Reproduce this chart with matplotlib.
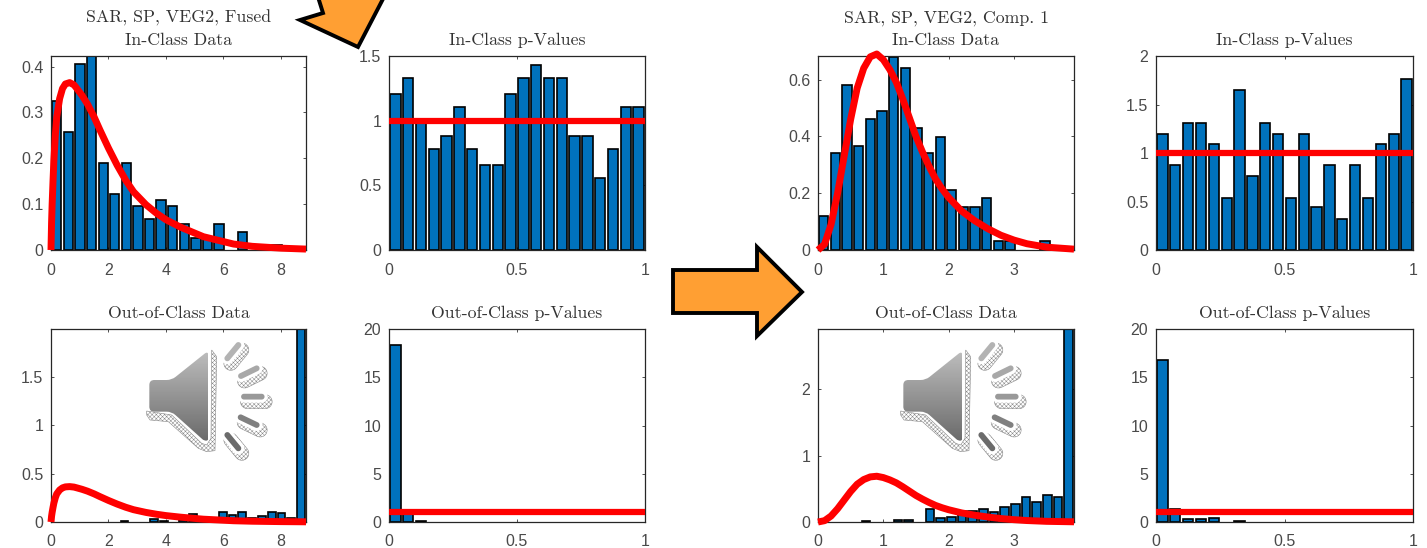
import numpy as np
import matplotlib
matplotlib.use("Agg")
import matplotlib.pyplot as plt
from matplotlib.patches import Polygon, PathPatch
from matplotlib.path import Path

W, H = 1427, 548

# ---- data ----
fused_in = [0.325, 0.258, 0.405, 0.43, 0.19, 0.122, 0.19, 0.097, 0.067, 0.108, 0.097,
            0.056, 0.027, 0.027, 0.056, 0, 0.04, 0, 0, 0.01, 0, 0]
fused_out = [0, 0, 0, 0, 0, 0, 0, 0.012, 0, 0, 0.03, 0.015, 0, 0.02, 0.08, 0, 0, 0.1,
             0.07, 0.1, 0.04, 0.06, 0.1, 0.09, 0.04, 2.0]
fused_p_in = [1.21, 1.33, 0.99, 0.78, 0.88, 1.105, 0.78, 0.66, 0.66, 1.21,
              1.33, 1.43, 1.33, 1.33, 0.88, 0.88, 0.555, 0.78, 1.105, 1.105]
fused_p_out = [18.3, 0.9, 0.12, 0, 0, 0, 0, 0, 0, 0, 0, 0, 0, 0, 0, 0, 0, 0, 0, 0]
comp_in = [0.12, 0.34, 0.58, 0.367, 0.46, 0.49, 0.68, 0.642, 0.43, 0.34, 0.398,
           0.212, 0.15, 0.15, 0.184, 0.03, 0.03, 0, 0, 0.03, 0, 0]
comp_out = [0, 0, 0, 0, 0.01, 0, 0, 0.03, 0.03, 0, 0.19, 0.06, 0.08, 0.17, 0.17, 0.19,
            0.15, 0.22, 0.27, 0.38, 0.3, 0.4, 0.38, 2.95]
comp_p_in = [1.2, 0.88, 1.31, 1.31, 1.09, 0.54, 1.65, 0.765, 1.31, 1.2,
             0.54, 1.2, 0.44, 0.88, 0.32, 0.88, 0.54, 1.09, 1.2, 1.76]
comp_p_out = [16.8, 1.3, 0.35, 0.35, 0.45, 0, 0.1, 0, 0, 0, 0, 0, 0, 0, 0, 0, 0, 0, 0, 0]

fused_curve_x = [0, 0.02, 0.04, 0.07, 0.1, 0.15, 0.2, 0.3, 0.4, 0.5, 0.65, 0.8, 0.9, 1.08,
                 1.27, 1.5, 1.7, 2, 2.3, 2.6, 2.87, 3.3, 3.67, 4, 4.5, 5.3, 6.35, 7, 8, 8.87]
fused_curve_y = [0, 0.06, 0.1, 0.15, 0.195, 0.25, 0.29, 0.33, 0.352, 0.362, 0.365, 0.36,
                 0.352, 0.337, 0.318, 0.29, 0.262, 0.222, 0.185, 0.152, 0.127, 0.099, 0.08,
                 0.066, 0.05, 0.029, 0.013, 0.008, 0.004, 0.002]
comp_curve_x = [0, 0.1, 0.2, 0.3, 0.4, 0.5, 0.6, 0.7, 0.8, 0.9, 1.0, 1.1, 1.2, 1.3, 1.4,
                1.5, 1.6, 1.7, 1.8, 1.9, 2.0, 2.2, 2.4, 2.6, 2.8, 3.0, 3.2, 3.5, 3.92]
comp_curve_y = [0, 0.02, 0.09, 0.2, 0.33, 0.46, 0.57, 0.64, 0.68, 0.69, 0.67, 0.635, 0.59,
                0.53, 0.465, 0.4, 0.345, 0.295, 0.25, 0.215, 0.185, 0.137, 0.103, 0.075,
                0.052, 0.035, 0.022, 0.01, 0.003]
p_curve_x = [0, 1]
p_curve_y = [1, 1]

titles_top = ["SAR, SP, VEG2, Fused", "SAR, SP, VEG2, Comp. 1"]

BLUE = "#0072BD"
RED = "#FF0000"
GRAY = "#4a4a4a"
ORANGE = "#FF9F33"
SERIF = "cmr10"
SANS = "Liberation Sans"

plt.rcParams["axes.formatter.use_mathtext"] = True
plt.rcParams["hatch.linewidth"] = 0.35
fig = plt.figure(figsize=(W / 100, H / 100), dpi=100, facecolor="white")


def make_axes(x0, x1, y0, y1):
    return fig.add_axes([x0 / W, 1 - y1 / H, (x1 - x0) / W, (y1 - y0) / H])


def panel(box, values, xmax, ymax, xticks, yticks, xlabels, ylabels, title,
          cx, cy, lw=5.0, first_line=None):
    ax = make_axes(*box)
    n = len(values)
    width = xmax / n
    centers = (np.arange(n) + 0.5) * width
    heights = np.array(values, dtype=float)
    keep = heights > 0
    ax.bar(centers[keep], heights[keep], width=width * 0.8, color=BLUE,
           edgecolor="black", linewidth=1.2, zorder=2)
    line, = ax.plot(cx, cy, color=RED, lw=lw, zorder=3, clip_on=False,
                    solid_capstyle="butt", solid_joinstyle="round")
    ax.set_xlim(0, xmax)
    ax.set_ylim(0, ymax)
    ax.set_xticks(xticks)
    ax.set_xticklabels(xlabels, family=SANS, fontsize=11.5, color=GRAY)
    ax.set_yticks(yticks)
    ax.set_yticklabels(ylabels, family=SANS, fontsize=11.5, color=GRAY)
    ax.tick_params(axis="both", length=2, width=0.6, color="#333333", top=True,
                   right=True, direction="in")
    ax.tick_params(axis="x", pad=9)
    ax.tick_params(axis="y", pad=5.5)
    for s in ax.spines.values():
        s.set_linewidth(0.9)
        s.set_color("#262626")
    xc = (box[0] + box[1]) / 2
    fig.text(xc / W, 1 - (box[2] - 16) / H, title, family=SERIF, fontsize=12.8,
             color="#333333", ha="center", va="center")
    if first_line:
        fig.text(xc / W, 1 - (box[2] - 38) / H, first_line, family=SERIF, fontsize=12.8,
                 color="#333333", ha="center", va="center")
    return ax


ROW1 = (56, 250)
ROW2 = (329, 522)
C1, C2, C3, C4 = (51, 306), (389, 645), (818, 1074), (1156, 1413)
t8 = [0, 2, 4, 6, 8]
t3 = [0, 1, 2, 3]
tp = [0, 0.5, 1]
lp = ["0", "0.5", "1"]

panel(C1 + ROW1, fused_in, 8.87, 0.423, t8, [0, .1, .2, .3, .4], ["0", "2", "4", "6", "8"],
      ["0", "0.1", "0.2", "0.3", "0.4"], "In-Class Data", fused_curve_x, fused_curve_y,
      first_line=titles_top[0])
panel(C2 + ROW1, fused_p_in, 1, 1.5, tp, [0, .5, 1, 1.5], lp, ["0", "0.5", "1", "1.5"],
      "In-Class p-Values", p_curve_x, p_curve_y, lw=4.5)
panel(C1 + ROW2, fused_out, 8.87, 1.99, t8, [0, .5, 1, 1.5], ["0", "2", "4", "6", "8"],
      ["0", "0.5", "1", "1.5"], "Out-of-Class Data", fused_curve_x, fused_curve_y)
panel(C2 + ROW2, fused_p_out, 1, 20, tp, [0, 5, 10, 15, 20], lp, ["0", "5", "10", "15", "20"],
      "Out-of-Class p-Values", p_curve_x, p_curve_y, lw=4.5)
panel(C3 + ROW1, comp_in, 3.92, 0.683, t3, [0, .2, .4, .6], ["0", "1", "2", "3"],
      ["0", "0.2", "0.4", "0.6"], "In-Class Data", comp_curve_x, comp_curve_y,
      first_line=titles_top[1])
panel(C4 + ROW1, comp_p_in, 1, 2, tp, [0, .5, 1, 1.5, 2], lp, ["0", "0.5", "1", "1.5", "2"],
      "In-Class p-Values", p_curve_x, p_curve_y, lw=4.5)
panel(C3 + ROW2, comp_out, 3.92, 2.91, t3, [0, 1, 2], ["0", "1", "2", "3"],
      ["0", "1", "2"], "Out-of-Class Data", comp_curve_x, comp_curve_y)
panel(C4 + ROW2, comp_p_out, 1, 20, tp, [0, 5, 10, 15, 20], lp, ["0", "5", "10", "15", "20"],
      "Out-of-Class p-Values", p_curve_x, p_curve_y, lw=4.5)

# overlay in pixel coordinates for the slide decorations
ov = fig.add_axes([0, 0, 1, 1], zorder=10)
ov.set_xlim(0, W)
ov.set_ylim(H, 0)
ov.axis("off")
ov.patch.set_alpha(0)


def arrow(points):
    ov.add_patch(Polygon(points, closed=True, fc=ORANGE, ec="black", lw=2.8, joinstyle="miter"))


arrow([(673, 270), (757, 270), (757, 247), (802, 292), (757, 336), (757, 313), (673, 313)])
arrow([(300, 20), (323, 13), (318, -3), (384, -3), (358, 47)])


def rounded(points, r):
    pts = np.array(points, dtype=float)
    n = len(pts)
    verts, codes = [], []
    for i in range(n):
        p, a, b = pts[i], pts[i - 1], pts[(i + 1) % n]
        u = (a - p) / np.linalg.norm(a - p)
        v = (b - p) / np.linalg.norm(b - p)
        rr = min(r, np.linalg.norm(a - p) / 2, np.linalg.norm(b - p) / 2)
        verts += [p + u * rr, p, p + v * rr]
        codes += [Path.LINETO if i else Path.MOVETO, Path.CURVE3, Path.CURVE3]
    verts.append(verts[0])
    codes.append(Path.CLOSEPOLY)
    return Path(verts, codes)


def capsule(a, b, r):
    a, b = np.array(a, float), np.array(b, float)
    d = (b - a) / np.linalg.norm(b - a)
    angs = np.linspace(-np.pi / 2, np.pi / 2, 12)
    base = np.arctan2(d[1], d[0])
    pts = [b + r * np.array([np.cos(base + t), np.sin(base + t)]) for t in angs]
    pts += [a + r * np.array([np.cos(base + np.pi + t), np.sin(base + np.pi + t)]) for t in angs]
    return pts


def Z(x, y):
    """Position inside the speaker crop."""
    return (140 + x / 3, 340 + y / 3)


def speaker(dx):
    def P(x, y):
        a, b = Z(x, y)
        return (a + dx, b)
    shadow = [(20, 225), (30, 240), (85, 245), (175, 325), (200, 335), (225, 332), (230, 50),
              (215, 30), (213, 295), (200, 315), (185, 310), (95, 225), (20, 213)]
    ov.add_patch(Polygon([P(*q) for q in shadow], closed=True, fc="white", ec="#888888",
                         lw=0.4, hatch="xxxxxxxx", zorder=1))
    body = [(28, 120), (95, 120), (205, 32), (205, 302), (192, 302), (95, 215), (28, 215)]
    path = rounded([P(*q) for q in body], 5)
    patch = PathPatch(path, fc="none", ec="none", zorder=2)
    ov.add_patch(patch)
    grad = np.linspace(0.74, 0.42, 64).reshape(-1, 1)
    xs = [P(*q)[0] for q in body]
    ys = [P(*q)[1] for q in body]
    im = ov.imshow(grad, cmap="gray", vmin=0, vmax=1, aspect="auto", zorder=2,
                   extent=(min(xs), max(xs), max(ys), min(ys)))
    im.set_clip_path(patch)
    rays = [((262, 55), (295, 15), 0.70), ((303, 108), (350, 85), 0.66),
            ((312, 170), (365, 170), 0.60), ((302, 232), (350, 255), 0.50),
            ((262, 285), (295, 325), 0.42)]
    for a, b, g in rays:
        a2, b2 = np.array(P(*a)), np.array(P(*b))
        off = np.array([3.5, 5.0])
        ov.add_patch(Polygon(capsule(a2 + off, b2 + off, 7), closed=True, fc="white",
                             ec="#888888", lw=0.4, hatch="xxxxxxxx", zorder=1))
        ov.add_patch(Polygon(capsule(a2, b2, 6), closed=True, fc="white", ec="none", zorder=1.5))
        ov.add_patch(Polygon(capsule(a2, b2, 2.9), closed=True, fc=str(g), ec="none", zorder=2))


speaker(0)
speaker(754)
ov.set_xlim(0, W)
ov.set_ylim(H, 0)

fig.savefig("out.png", dpi=100, facecolor="white")
